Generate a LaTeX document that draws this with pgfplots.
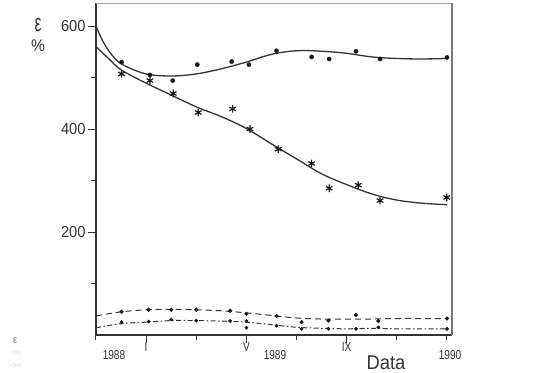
\documentclass[border=0pt]{standalone}
\usepackage{fontspec}
\setmainfont{Liberation Sans}[FakeStretch=0.92]
\newfontfamily\cond{Liberation Sans}[FakeStretch=0.78]
\usepackage{pgfplots}
\pgfplotsset{compat=1.18}
\definecolor{ink}{HTML}{333333}
\definecolor{frame}{HTML}{7A7A7A}
\begin{document}
\begin{tikzpicture}
\useasboundingbox (-96bp,-38bp) rectangle (441bp,335bp);
\begin{axis}[
  at={(0,0)}, anchor=south west,
  scale only axis, width=356bp, height=332bp,
  xmin=0, xmax=14.2, ymin=0, ymax=644.7,
  axis x line*=bottom, axis y line*=left,
  axis line style={ink, line width=1.2bp, -},
  tick style={ink, line width=1bp},
  tick align=outside,
  major tick length=8bp, minor tick length=5bp,
  ytick={200,400,600}, minor ytick={100,300,500},
  xtick={2,6,10}, xticklabels={I,V,IX},
  minor xtick={0,4,8,12,14},
  x tick label style={font=\cond\fontsize{13}{14}\selectfont, ink, yshift=4bp},
  y tick label style={font=\fontsize{16}{17}\selectfont, ink, xshift=1bp},
  /pgf/number format/assume math mode=true,
  clip=false,
]
% frame top/right
\draw[frame!70!white, line width=0.8bp] (rel axis cs:0,1) -- (rel axis cs:1,1);
\draw[frame, line width=1.8bp] (rel axis cs:1,0) -- (rel axis cs:1,1);

% upper solid curve (dots)
\addplot[ink, line width=1.3bp, smooth, tension=0.6, no marks] coordinates {
 (0,600) (0.3,568) (0.7,540) (1.1,524) (2,507) (3,503) (4,507) (5,517) (6,530)
 (7,545) (8,552) (9,551) (10,547) (11,540) (12,537) (13,536) (14,537)};
\addplot[only marks, mark=*, mark size=2.1bp, black!90] coordinates {
 (1.02,530) (2.15,505) (3.06,494) (4.04,525) (5.41,531) (6.1,525)
 (7.2,552) (8.6,540) (9.3,536) (10.37,551) (11.33,536) (14.0,539)};

% lower solid curve (stars)
\addplot[ink, line width=1.3bp, smooth, tension=0.6, no marks] coordinates {
 (0,560) (0.5,537) (1,515) (2,489) (3,466) (4,443) (5,424) (6,401)
 (7,371) (8,342) (9,313) (10,292) (11,274) (12,262) (13,256) (14,253)};
\addplot[only marks, mark=asterisk, mark size=3.8bp, black!90, line width=1.2bp] coordinates {
 (1.02,507) (2.15,494) (3.08,469) (4.08,432) (5.45,439) (6.14,400)
 (7.27,361) (8.6,333) (9.3,285) (10.46,291) (11.33,261) (13.99,267)};

% upper dashed curve
\addplot[ink, line width=1bp, dash pattern=on 6bp off 4bp, smooth, no marks] coordinates {
 (0,37) (1,45) (2,49) (3,50) (4,49) (5,47) (6,43) (7,38) (8,33)
 (9,31) (10,31) (11,31) (12,32) (13,32) (14,32)};
\addplot[only marks, mark=*, mark size=1.9bp, black!90] coordinates {
 (1.02,45) (2.1,49) (3.0,49) (4.0,49) (5.35,47) (6.0,41)
 (7.2,37) (8.2,25) (9.27,28) (10.37,39) (11.26,27) (14,32)};

% lower dash-dot curve
\addplot[ink, line width=1bp, dash pattern=on 5bp off 2.5bp on 1.5bp off 2.5bp, smooth, no marks] coordinates {
 (0,14) (1,22) (2,25) (3,28) (4,28) (5,27) (6,25) (7,20) (8,15)
 (9,13) (10,12) (11,13) (12,12) (13,12) (14,12)};
\addplot[only marks, mark=*, mark size=1.7bp, black!90] coordinates {
 (1.02,25) (2.1,26) (3.0,30) (4.0,28) (5.35,27) (6.0,27) (6.0,14)
 (7.2,18) (8.2,12) (9.27,12) (10.37,12) (11.26,15) (14,12)};
\end{axis}
% text (px X,Y -> X-96, 335-Y)
\node[ink, font=\fontsize{17}{18}\selectfont] at (-58bp,310bp) {\scalebox{1}[1.45]{ε}};
\node[ink, font=\fontsize{17}{18}\selectfont] at (-58bp,289bp) {\%};
\node[ink, font=\cond\fontsize{13}{14}\selectfont] at (18bp,-20bp) {1988};
\node[ink, font=\cond\fontsize{13}{14}\selectfont] at (179bp,-20bp) {1989};
\node[ink, font=\cond\fontsize{13}{14}\selectfont] at (354bp,-20bp) {1990};
\node[ink, font=\fontsize{20}{21}\selectfont] at (290bp,-28bp) {Data};
% faint scan residue (legend)
\node[black!45, font=\fontsize{11}{12}\selectfont] at (-81bp,-6bp) {ε};
\node[black!15, font=\fontsize{6}{7}\selectfont, anchor=west] at (-90bp,-18bp) {• mu};
\node[black!15, font=\fontsize{6}{7}\selectfont, anchor=west] at (-90bp,-30bp) {• SM};
\end{tikzpicture}
\end{document}
